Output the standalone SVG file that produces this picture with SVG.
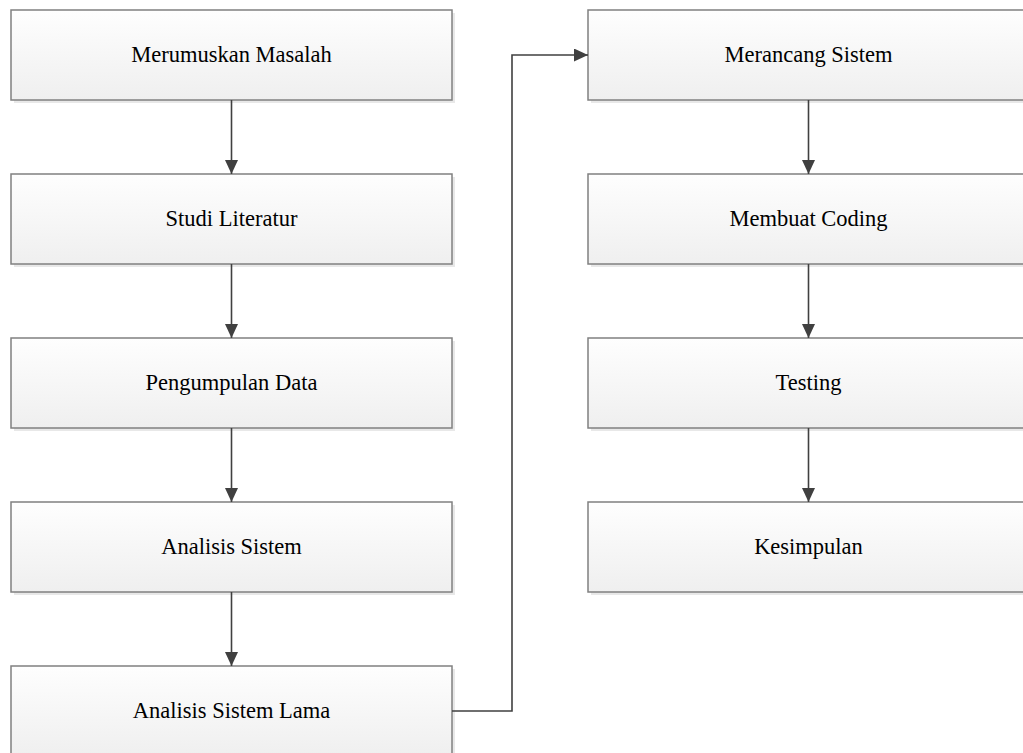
<svg xmlns="http://www.w3.org/2000/svg" width="1023" height="753" viewBox="0 0 1023 753">
  <defs>
    <linearGradient id="boxFill" x1="0" y1="0" x2="0" y2="1">
      <stop offset="0" stop-color="#fefefe"/>
      <stop offset="1" stop-color="#efefef"/>
    </linearGradient>
    <marker id="arrow" viewBox="0 0 14 13" refX="14" refY="6.5" markerWidth="14" markerHeight="13" markerUnits="userSpaceOnUse" orient="auto">
      <path d="M0,0 L14,6.5 L0,13 Z" fill="#404040"/>
    </marker>
  </defs>
  <style>
    .shadow { fill: #e8e8e8; }
    .box { fill: url(#boxFill); stroke: #808080; stroke-width: 1.5; }
    .label { font-family: "Liberation Serif", "Times New Roman", serif; font-size: 22.5px; fill: #000000; text-anchor: middle; }
    .link { fill: none; stroke: #404040; stroke-width: 1.6; marker-end: url(#arrow); }
  </style>
  <rect width="1023" height="753" fill="#ffffff"/>

  <!-- left column -->
  <g id="merumuskan-masalah">
    <rect class="shadow" x="14" y="13" width="441" height="90"/>
    <rect class="box" x="11" y="10" width="441" height="90"/>
    <text class="label" x="231.5" y="62">Merumuskan Masalah</text>
  </g>
  <g id="studi-literatur">
    <rect class="shadow" x="14" y="177" width="441" height="90"/>
    <rect class="box" x="11" y="174" width="441" height="90"/>
    <text class="label" x="231.5" y="226">Studi Literatur</text>
  </g>
  <g id="pengumpulan-data">
    <rect class="shadow" x="14" y="341" width="441" height="90"/>
    <rect class="box" x="11" y="338" width="441" height="90"/>
    <text class="label" x="231.5" y="390">Pengumpulan Data</text>
  </g>
  <g id="analisis-sistem">
    <rect class="shadow" x="14" y="505" width="441" height="90"/>
    <rect class="box" x="11" y="502" width="441" height="90"/>
    <text class="label" x="231.5" y="554">Analisis Sistem</text>
  </g>
  <g id="analisis-sistem-lama">
    <rect class="shadow" x="14" y="669" width="441" height="90"/>
    <rect class="box" x="11" y="666" width="441" height="90"/>
    <text class="label" x="231.5" y="718">Analisis Sistem Lama</text>
  </g>

  <!-- right column -->
  <g id="merancang-sistem">
    <rect class="shadow" x="591" y="13" width="441" height="90"/>
    <rect class="box" x="588" y="10" width="441" height="90"/>
    <text class="label" x="808.5" y="62">Merancang Sistem</text>
  </g>
  <g id="membuat-coding">
    <rect class="shadow" x="591" y="177" width="441" height="90"/>
    <rect class="box" x="588" y="174" width="441" height="90"/>
    <text class="label" x="808.5" y="226">Membuat Coding</text>
  </g>
  <g id="testing">
    <rect class="shadow" x="591" y="341" width="441" height="90"/>
    <rect class="box" x="588" y="338" width="441" height="90"/>
    <text class="label" x="808.5" y="390">Testing</text>
  </g>
  <g id="kesimpulan">
    <rect class="shadow" x="591" y="505" width="441" height="90"/>
    <rect class="box" x="588" y="502" width="441" height="90"/>
    <text class="label" x="808.5" y="554">Kesimpulan</text>
  </g>

  <g id="connectors">
    <path class="link" d="M231.5,100 V174"/>
    <path class="link" d="M231.5,264 V338"/>
    <path class="link" d="M231.5,428 V502"/>
    <path class="link" d="M231.5,592 V666"/>
    <path class="link" d="M452,711 H512 V55 H588"/>
    <path class="link" d="M808.5,100 V174"/>
    <path class="link" d="M808.5,264 V338"/>
    <path class="link" d="M808.5,428 V502"/>
  </g>
</svg>
